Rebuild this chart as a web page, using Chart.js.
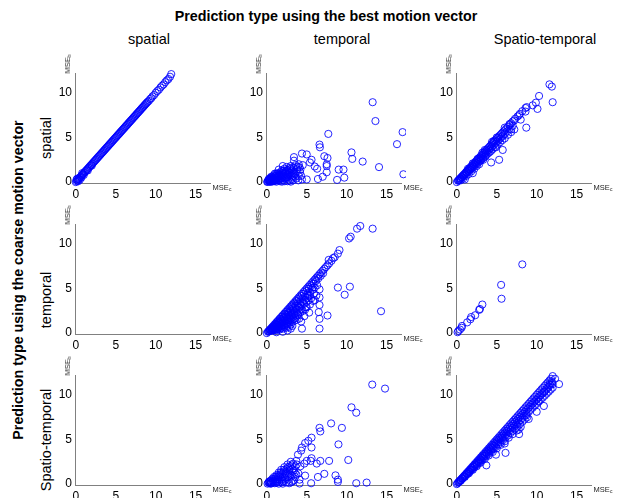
<!DOCTYPE html>
<html>
<head>
<meta charset="utf-8">
<script src="https://cdn.jsdelivr.net/npm/chart.js@4"></script>
<style>
  html, body { margin: 0; padding: 0; background: #fff; }
  #wrap { position: relative; width: 620px; height: 498px; overflow: hidden; font-family: 'Liberation Sans', Arial, sans-serif; color: #000; }
  .txt { position: absolute; white-space: nowrap; transform: translate(-50%, -50%); line-height: 1; }
  .rot { transform: translate(-50%, -50%) rotate(-90deg); }
  .lbl { font-size: 7.5px; color: #222; }
  .lbl sub { font-size: 5px; vertical-align: -1px; }
  canvas { position: absolute; }
</style>
</head>
<body>
<div id="wrap"></div>
<script>
const colTitles = ['spatial', 'temporal', 'Spatio-temporal'];
const rowTitles = ['spatial', 'temporal', 'Spatio-temporal'];
const xTicks = [0, 5, 10, 15];
const yTicks = [0, 5, 10];

// row = coarse motion vector type, column = best motion vector type; points are [MSEc, MSEb]
const spatialSpatial = [[0,0],[0.1,0.1],[0.2,0.2],[0.3,0.3],[0.4,0.4],[0.5,0.5],[0.6,0.6],[0.7,0.7],[0.8,0.8],[0.9,0.9],[1,1],[1.1,1.1],[1.2,1.2],[1.3,1.3],[1.4,1.4],[1.5,1.5],[1.6,1.6],[1.7,1.7],[1.8,1.8],[1.9,1.9],[2,2],[2.1,2.1],[2.2,2.2],[2.3,2.3],[2.4,2.4],[2.5,2.5],[2.6,2.6],[2.7,2.7],[2.8,2.8],[2.9,2.9],[3,3],[3.1,3.1],[3.2,3.2],[3.3,3.3],[3.4,3.4],[3.5,3.5],[3.6,3.6],[3.7,3.7],[3.8,3.8],[3.9,3.9],[4,4],[4.1,4.1],[4.2,4.2],[4.3,4.3],[4.4,4.4],[4.5,4.5],[4.6,4.6],[4.7,4.7],[4.8,4.8],[4.9,4.9],[5,5],[5.1,5.1],[5.2,5.2],[5.3,5.3],[5.4,5.4],[5.5,5.5],[5.6,5.6],[5.7,5.7],[5.8,5.8],[5.9,5.9],[6,6],[6.1,6.1],[6.2,6.2],[6.3,6.3],[6.4,6.4],[6.5,6.5],[6.6,6.6],[6.7,6.7],[6.8,6.8],[6.9,6.9],[7,7],[7.1,7.1],[7.2,7.2],[7.3,7.3],[7.4,7.4],[7.5,7.5],[7.6,7.6],[7.7,7.7],[7.8,7.8],[7.9,7.9],[8,8],[8.1,8.1],[8.2,8.2],[8.3,8.3],[8.4,8.4],[8.5,8.5],[8.6,8.6],[8.7,8.7],[8.8,8.8],[8.9,8.9],[9,9],[9.15,9.1],[9.3,9.3],[9.45,9.4],[9.6,9.6],[9.8,9.75],[10,10],[10.2,10.2],[10.4,10.35],[10.6,10.6],[10.8,10.8],[11,10.95],[11.2,11.2],[11.4,11.4],[11.6,11.55],[11.8,11.8],[11.95,12.1],[0.3,0.1],[0.5,0.25],[0.2,0.4],[0.7,0.5],[1.0,0.8],[0.8,1.0],[1.5,1.3],[2.0,1.85],[0.1,0.3]];
const spatialTemporal = [[13.25,8.95],[13.6,6.84],[17.0,5.6],[16.3,4.25],[17.1,0.88],[14.05,1.68],[12.0,2.3],[10.6,3.33],[10.7,2.6],[7.7,5.4],[6.6,4.2],[6.65,3.9],[7.6,2.7],[7.2,2.9],[7.5,2.0],[7.5,1.8],[7.5,1.1],[7.0,0.6],[6.4,0.35],[9.0,1.4],[9.6,1.4],[9.7,0.5],[8.8,0.25],[6.3,1.5],[6.0,1.75],[5.4,2.2],[5.6,2.5],[5.0,3.1],[4.4,3.2],[3.4,2.8],[3.4,2.4],[4.0,2.0],[4.1,1.65],[5.0,0.3],[4.3,0.7],[0.1,0.05],[0.2,0.2],[0.3,0.1],[0.4,0.3],[0.5,0.15],[0.6,0.4],[0.7,0.25],[0.8,0.5],[0.9,0.1],[1,0.6],[1.1,0.35],[1.2,0.8],[1.3,0.2],[1.4,0.55],[1.5,0.9],[1.6,0.3],[1.7,1.1],[1.8,0.65],[1.9,1.3],[2,0.2],[2.1,0.9],[2.2,1.5],[2.3,0.5],[2.4,1.2],[2.5,1.7],[2.6,0.8],[2.7,0.3],[2.8,1.4],[2.9,1.0],[3,1.8],[3.1,0.6],[3.2,1.3],[3.3,0.2],[3.4,1.6],[3.5,0.9],[3.6,1.9],[3.7,0.4],[3.8,1.2],[3.9,1.7],[4,0.7],[4.2,1.4],[4.4,0.3],[4.5,1.9],[0.5,0.5],[1.5,1.4],[2.0,1.8],[1.0,0.95],[0.3,0.3],[0.05,0.02],[0.6,0.05],[1.2,0.05],[1.9,0.05],[2.6,0.1],[3.0,0.05],[0.25,0.35],[0.45,0.05],[0.55,0.6],[0.75,0.15],[0.85,0.75],[0.95,0.3],[1.05,0.15],[1.15,0.7],[1.25,0.45],[1.35,1.0],[1.45,0.25],[1.55,0.65],[1.65,0.1],[1.75,0.85],[1.85,0.4],[1.95,1.0],[2.05,0.6],[2.15,1.3],[2.25,0.1],[2.35,0.95],[2.45,0.45],[2.55,1.35],[2.65,0.6],[2.75,1.1],[2.85,0.15],[2.95,0.75],[3.05,1.5],[3.15,0.35],[3.35,1.0],[3.55,0.6],[3.75,1.45],[3.95,0.2],[4.15,1.1],[0.35,0.2],[0.65,0.3],[1.0,0.2],[0.15,0.12],[0.35,0.05],[0.45,0.4],[0.65,0.55],[0.7,0.1],[0.85,0.35],[1.05,0.5],[1.15,0.95],[1.3,0.6],[1.45,0.45],[1.6,0.75],[1.7,0.5],[1.9,0.75],[2.0,1.2],[2.15,0.4],[2.3,1.0],[2.5,0.55],[2.6,1.3],[2.75,0.9],[2.9,1.6],[3.1,1.15],[3.3,0.7]];
const spatialSpatioTemporal = [[0,0],[0.15,0.15],[0.3,0.3],[0.45,0.44],[0.6,0.58],[0.75,0.73],[0.9,0.87],[1.05,1.02],[1.2,1.16],[1.35,1.31],[1.5,1.45],[1.65,1.6],[1.8,1.75],[1.95,1.89],[2.1,2.04],[2.25,2.18],[2.4,2.33],[2.55,2.47],[2.7,2.62],[2.85,2.76],[3,2.91],[3.15,3.06],[3.3,3.2],[3.45,3.35],[3.6,3.49],[3.75,3.64],[3.9,3.78],[4.05,3.93],[4.2,4.07],[4.35,4.22],[4.5,4.37],[4.65,4.51],[4.8,4.66],[4.95,4.8],[5.1,4.95],[5.25,5.09],[5.4,5.24],[5.55,5.38],[5.7,5.53],[5.85,5.67],[6,5.82],[6.2,6.01],[6.4,6.2],[6.6,6.4],[6.8,6.6],[7.0,6.8],[7.3,7.1],[7.6,7.35],[7.9,7.65],[8.2,7.95],[8.6,8.3],[0.3,0.2],[0.5,0.4],[0.7,0.55],[0.9,0.72],[1.1,0.9],[1.3,1.05],[1.5,1.22],[1.7,1.4],[1.9,1.55],[2.1,1.7],[2.3,1.9],[2.5,2.05],[2.7,2.2],[2.9,2.4],[3.1,2.55],[3.3,2.7],[3.5,2.85],[3.7,3.05],[3.9,3.2],[4.1,3.35],[4.3,3.5],[4.5,3.7],[4.8,3.95],[5.1,4.2],[5.4,4.45],[5.7,4.7],[6.0,4.9],[6.4,5.3],[6.8,5.6],[7.2,5.9],[0.2,0.18],[0.4,0.36],[0.6,0.54],[0.8,0.72],[1.0,0.9],[1.2,1.08],[1.4,1.26],[1.6,1.44],[1.8,1.62],[2.0,1.8],[2.2,1.98],[2.4,2.16],[2.6,2.34],[2.8,2.52],[3.0,2.7],[3.2,2.88],[3.4,3.06],[3.6,3.24],[3.8,3.42],[4.0,3.6],[4.2,3.78],[4.4,3.96],[4.6,4.14],[4.8,4.32],[5.0,4.5],[5.2,4.68],[5.4,4.86],[5.6,5.04],[5.8,5.22],[6.0,5.4],[6.3,5.67],[6.6,5.94],[7.0,6.3],[0.5,0.2],[0.8,0.4],[1.0,0.3],[1.2,0.7],[1.5,0.9],[1.8,1.2],[2.0,1.0],[2.2,1.5],[2.5,1.8],[2.8,2.0],[3.0,2.4],[3.3,2.5],[3.6,2.9],[4.3,2.2],[4.9,3.9],[5.3,2.5],[5.75,3.6],[4.6,4.6],[5.0,5.0],[3.5,3.6],[6.0,6.1],[6.6,6.5],[8.7,6.1],[7.8,7.5],[8.6,7.9],[8.75,8.4],[9.9,8.9],[10.1,8.2],[10.3,9.65],[11.6,10.95],[11.9,10.7],[12.0,8.95],[9.5,8.6],[8.0,7.0],[7.2,6.9],[6.8,5.9],[4.4,4.5],[3.2,3.3],[2.6,2.6],[2.0,2.1],[1.4,1.5]];
const temporalSpatial = [];
const temporalTemporal = [[0,0],[0.2,0.2],[0.4,0.4],[0.6,0.6],[0.8,0.8],[1,1],[1.2,1.2],[1.4,1.4],[1.6,1.6],[1.8,1.8],[2,2],[2.2,2.2],[2.4,2.4],[2.6,2.6],[2.8,2.8],[3,3],[3.2,3.2],[3.4,3.4],[3.6,3.6],[3.8,3.8],[4,4],[4.2,4.2],[4.4,4.4],[4.6,4.6],[4.8,4.8],[5,5],[5.2,5.2],[5.4,5.4],[5.6,5.6],[5.8,5.8],[6,6],[6.2,6.2],[6.4,6.4],[6.6,6.6],[6.8,6.8],[7,7],[7.2,7.2],[7.4,7.4],[7.6,7.6],[7.8,7.8],[8.1,8.1],[8.5,8.5],[8.9,8.9],[9.1,9.3],[10.3,10.6],[10.5,10.8],[11.3,11.7],[11.7,12.0],[13.25,11.7],[0.3,0.26],[0.6,0.51],[0.9,0.77],[1.2,1.02],[1.5,1.28],[1.8,1.53],[2.1,1.79],[2.4,2.04],[2.7,2.3],[3,2.55],[3.3,2.81],[3.6,3.06],[3.9,3.32],[4.2,3.57],[4.5,3.83],[4.8,4.08],[5.1,4.34],[5.4,4.59],[5.7,4.85],[6,5.1],[6.3,5.36],[0.45,0.32],[0.75,0.53],[1.05,0.74],[1.35,0.95],[1.65,1.16],[1.95,1.37],[2.25,1.58],[2.55,1.79],[2.85,2.0],[3.15,2.2],[3.45,2.42],[3.75,2.63],[4.05,2.84],[4.35,3.05],[4.65,3.26],[4.95,3.47],[5.25,3.68],[5.55,3.89],[0.6,0.33],[0.9,0.5],[1.2,0.66],[1.5,0.83],[1.8,0.99],[2.1,1.16],[2.4,1.32],[2.7,1.49],[3,1.65],[3.3,1.82],[3.6,1.98],[3.9,2.15],[4.2,2.31],[4.5,2.48],[4.8,2.64],[0.75,0.3],[1.05,0.42],[1.35,0.54],[1.65,0.66],[1.95,0.78],[2.25,0.9],[2.55,1.02],[2.85,1.14],[3.15,1.26],[3.45,1.38],[3.75,1.5],[4.05,1.62],[1.2,0.3],[1.6,0.4],[2.0,0.5],[2.4,0.6],[2.8,0.7],[3.2,0.8],[0.15,0.14],[0.45,0.43],[0.75,0.71],[1.05,1.0],[1.35,1.28],[1.65,1.57],[1.95,1.85],[2.25,2.14],[2.55,2.42],[2.85,2.71],[3.15,2.99],[3.45,3.28],[3.75,3.56],[4.05,3.85],[4.35,4.13],[4.65,4.42],[4.95,4.7],[5.25,4.99],[5.55,5.27],[5.85,5.56],[6.15,5.84],[6.45,6.13],[6.75,6.41],[7.05,6.7],[0.3,0.23],[0.6,0.47],[0.9,0.7],[1.2,0.94],[1.5,1.17],[1.8,1.4],[2.1,1.64],[2.4,1.87],[2.7,2.11],[3,2.34],[3.3,2.57],[3.6,2.81],[3.9,3.04],[4.2,3.28],[4.5,3.51],[4.8,3.74],[5.1,3.98],[5.4,4.21],[0.45,0.28],[0.75,0.47],[1.05,0.65],[1.35,0.84],[1.65,1.02],[1.95,1.21],[2.25,1.4],[2.55,1.58],[2.85,1.77],[3.15,1.95],[3.45,2.14],[3.75,2.33],[4.05,2.51],[4.35,2.7],[0.6,0.28],[0.9,0.42],[1.2,0.56],[1.5,0.71],[1.8,0.85],[2.1,0.99],[2.4,1.13],[2.7,1.27],[3,1.41],[3.3,1.55],[3.6,1.69],[1.0,0.32],[1.4,0.45],[1.8,0.58],[2.2,0.7],[2.6,0.83],[3.0,0.96],[1.2,0.1],[2.0,0.15],[2.6,0.3],[3.0,0.5],[8.9,5.1],[10.4,5.2],[9.75,4.3],[14.3,2.45],[7.6,1.97],[6.6,0.5],[6.6,1.6],[6.5,2.35],[6.6,3.15],[6.6,4.0],[6.6,4.9],[6.0,3.7],[5.7,5.1],[5.3,2.3],[4.4,0.5],[4.3,1.3],[3.9,2.0],[4.9,2.9],[7.75,8.2],[8.3,8.4],[5.0,2.9],[5.4,3.2],[5.8,3.6],[6.2,4.2],[4.7,1.9],[5.2,4.2],[5.9,4.4]];
const temporalSpatioTemporal = [[8.2,7.7],[5.55,5.4],[5.6,3.85],[3.2,3.2],[2.9,2.7],[2.8,2.6],[2.3,2.0],[1.8,1.8],[1.7,1.55],[1.3,1.2],[0.65,0.8],[0.6,0.6],[0.2,0.25],[0.1,0.1],[0.4,0.4]];
const stSpatial = [];
const stTemporal = [[13.2,11.15],[14.8,10.7],[10.6,8.6],[11.2,8.0],[9.4,6.3],[8.05,6.8],[6.6,6.3],[6.7,5.9],[5.6,5.2],[5.2,4.85],[4.8,4.6],[4.4,4.1],[4.3,3.75],[3.9,3.3],[5.6,4.1],[8.97,4.45],[10.2,2.7],[7.8,2.6],[6.7,2.6],[5.6,2.9],[5.5,2.6],[5.0,2.6],[6.25,2.3],[4.7,2.3],[4.2,2.0],[8.6,0.98],[7.2,1.15],[6.4,0.8],[8.9,0.5],[8.9,0.25],[11.2,0.1],[12.5,0.17],[5.55,0.1],[4.1,0.07],[4.8,0.95],[3.7,1.05],[0.1,0.05],[0.2,0.15],[0.3,0.3],[0.4,0.1],[0.5,0.4],[0.6,0.2],[0.7,0.6],[0.8,0.3],[0.9,0.8],[1,0.1],[1.1,0.5],[1.2,1.0],[1.3,0.3],[1.4,0.8],[1.5,1.3],[1.6,0.5],[1.7,1.1],[1.8,1.6],[1.9,0.2],[2,0.8],[2.1,1.4],[2.2,1.9],[2.3,0.5],[2.4,1.1],[2.5,1.7],[2.6,2.2],[2.7,0.8],[2.8,1.4],[2.9,2.0],[3,2.5],[3.1,1.0],[3.2,1.7],[3.3,2.3],[3.4,0.4],[3.5,1.3],[3.6,2.0],[3.7,2.6],[2.0,0.05],[2.8,0.1],[3.2,0.3],[1.5,0.05],[0.5,0.05],[0.25,0.2],[0.45,0.3],[0.55,0.1],[0.75,0.4],[0.85,0.15],[0.95,0.6],[1.05,0.3],[1.15,0.8],[1.25,0.15],[1.35,0.5],[1.45,1.0],[1.55,0.25],[1.65,0.75],[1.75,1.3],[1.85,0.45],[1.95,1.1],[2.05,0.3],[2.15,1.6],[2.25,0.7],[2.35,1.3],[2.45,0.2],[2.55,1.0],[2.65,1.9],[2.75,0.5],[2.85,1.6],[2.95,1.1],[3.05,0.2],[3.15,2.1],[3.35,1.5],[3.55,0.8],[3.75,2.2],[3.95,1.2],[4.1,0.5]];
const stSpatioTemporal = [[0,0],[0.2,0.2],[0.4,0.4],[0.6,0.6],[0.8,0.8],[1,1],[1.2,1.2],[1.4,1.4],[1.6,1.6],[1.8,1.8],[2,2],[2.2,2.2],[2.4,2.4],[2.6,2.6],[2.8,2.8],[3,3],[3.2,3.2],[3.4,3.4],[3.6,3.6],[3.8,3.8],[4,4],[4.2,4.2],[4.4,4.4],[4.6,4.6],[4.8,4.8],[5,5],[5.2,5.2],[5.4,5.4],[5.6,5.6],[5.8,5.8],[6,6],[6.2,6.2],[6.4,6.4],[6.6,6.6],[6.8,6.8],[7,7],[7.2,7.2],[7.4,7.4],[7.6,7.6],[7.8,7.8],[8,8],[8.2,8.2],[8.4,8.4],[8.6,8.6],[8.8,8.8],[9,9],[9.2,9.2],[9.4,9.4],[9.6,9.6],[9.8,9.8],[10,10],[10.2,10.2],[10.4,10.4],[10.6,10.6],[10.8,10.8],[11,11],[11.2,11.2],[11.4,11.4],[11.6,11.6],[11.8,11.8],[12,12.1],[0.1,0.1],[0.3,0.29],[0.5,0.48],[0.7,0.67],[0.9,0.86],[1.1,1.05],[1.3,1.24],[1.5,1.43],[1.7,1.62],[1.9,1.81],[2.1,2.0],[2.3,2.19],[2.5,2.38],[2.7,2.57],[2.9,2.76],[3.1,2.95],[3.3,3.14],[3.5,3.33],[3.7,3.52],[3.9,3.71],[4.1,3.9],[4.3,4.09],[4.5,4.28],[4.7,4.47],[4.9,4.66],[5.1,4.85],[5.3,5.04],[5.5,5.23],[5.7,5.42],[5.9,5.61],[6.1,5.8],[6.3,5.99],[6.5,6.18],[6.7,6.37],[6.9,6.56],[7.1,6.75],[7.3,6.94],[7.5,7.13],[7.7,7.32],[7.9,7.51],[8.1,7.7],[8.3,7.89],[8.5,8.08],[8.7,8.27],[8.9,8.46],[9.1,8.65],[9.3,8.84],[9.5,9.03],[9.7,9.22],[9.9,9.41],[10.1,9.6],[10.3,9.79],[10.5,9.98],[10.7,10.17],[10.9,10.36],[11.1,10.55],[11.3,10.74],[11.5,10.93],[11.7,11.12],[11.9,11.31],[0.25,0.23],[0.5,0.45],[0.75,0.68],[1,0.9],[1.25,1.13],[1.5,1.35],[1.75,1.58],[2,1.8],[2.25,2.03],[2.5,2.25],[2.75,2.48],[3,2.7],[3.25,2.93],[3.5,3.15],[3.75,3.38],[4,3.6],[4.25,3.83],[4.5,4.05],[4.75,4.28],[5,4.5],[5.25,4.73],[5.5,4.95],[5.75,5.18],[6,5.4],[6.25,5.63],[6.5,5.85],[6.75,6.08],[7,6.3],[7.25,6.53],[7.5,6.75],[7.75,6.98],[8,7.2],[8.25,7.43],[8.5,7.65],[8.75,7.88],[9,8.1],[9.25,8.33],[9.5,8.55],[9.75,8.78],[10,9],[10.25,9.23],[10.5,9.45],[10.75,9.68],[11,9.9],[11.25,10.13],[11.5,10.35],[11.75,10.58],[12,10.8],[0.4,0.34],[0.7,0.6],[1.0,0.85],[1.3,1.11],[1.6,1.36],[1.9,1.62],[2.2,1.87],[2.5,2.13],[2.8,2.38],[3.1,2.64],[3.4,2.89],[3.7,3.15],[4.0,3.4],[4.3,3.66],[4.6,3.91],[4.9,4.17],[5.2,4.42],[5.5,4.68],[5.8,4.93],[6.1,5.19],[6.4,5.44],[6.7,5.7],[7.0,5.95],[7.3,6.21],[7.6,6.46],[7.9,6.72],[8.2,6.97],[8.5,7.23],[8.8,7.48],[0.5,0.4],[1,0.8],[1.5,1.2],[2,1.6],[2.5,2.0],[3,2.4],[3.5,2.8],[4,3.2],[4.5,3.6],[5,4.0],[5.5,4.4],[6,4.8],[6.5,5.2],[7,5.6],[7.5,6.0],[8,6.4],[9,7.3],[10,8.1],[12.8,11.2],[12.0,11.2],[10.95,10.3],[10.9,8.75],[10.25,9.3],[8.7,7.7],[7.8,5.6],[7.75,6.1],[6.1,3.5],[6.0,4.55],[4.9,3.3],[3.7,2.1],[11.6,11.2],[12.3,11.8],[11.9,11.5]];

const panelData = [
  [spatialSpatial, spatialTemporal, spatialSpatioTemporal],
  [temporalSpatial, temporalTemporal, temporalSpatioTemporal],
  [stSpatial, stTemporal, stSpatioTemporal],
];

const FONT = "'Liberation Sans', Arial, sans-serif";
const wrap = document.getElementById('wrap');
const plotLeft = [75, 266, 456];
const plotTop = [68, 219, 370];
const plotW = 135, plotH = 115;
const yAxisW = 40, xAxisH = 22, padT = 5, padR = 5;

function addText(html, x, y, style, cls) {
  const d = document.createElement('div');
  d.className = 'txt' + (cls ? ' ' + cls : '');
  d.innerHTML = html;
  d.style.left = x + 'px';
  d.style.top = y + 'px';
  Object.assign(d.style, style || {});
  wrap.appendChild(d);
}

addText('Prediction type using the best motion vector', 326, 16, { fontSize: '14.3px', fontWeight: 'bold' });
addText('Prediction type using the coarse motion vector', 18, 280, { fontSize: '14.3px', fontWeight: 'bold' }, 'rot');
const colX = [149, 342, 545];
colTitles.forEach((t, i) => addText(t, colX[i], 39, { fontSize: '14.5px' }));
const rowY = [138, 300, 440];
rowTitles.forEach((t, i) => addText(t, 46, rowY[i], { fontSize: '14.5px' }, 'rot'));

function axis(ticks, min, max, isX) {
  return {
    type: 'linear',
    min: min,
    max: max,
    grid: { display: false, drawTicks: false },
    border: { display: true, color: '#808080', width: 1 },
    ticks: { font: { family: FONT, size: 12 }, color: '#000', padding: isX ? 4 : 3, maxRotation: 0, autoSkip: false },
    afterBuildTicks: s => { s.ticks = ticks.map(v => ({ value: v })); },
    afterFit: s => { if (isX) s.height = xAxisH; else s.width = yAxisW; },
  };
}

for (let r = 0; r < 3; r++) {
  for (let c = 0; c < 3; c++) {
    const L = plotLeft[c], T = plotTop[r];
    const cv = document.createElement('canvas');
    const w = yAxisW + plotW + padR, h = padT + plotH + xAxisH;
    cv.width = w; cv.height = h;
    cv.style.left = (L - yAxisW) + 'px';
    cv.style.top = (T - padT) + 'px';
    cv.style.width = w + 'px'; cv.style.height = h + 'px';
    wrap.appendChild(cv);

    new Chart(cv.getContext('2d'), {
      type: 'scatter',
      data: {
        datasets: [{
          data: panelData[r][c].map(p => ({ x: p[0], y: p[1] })),
          pointStyle: 'circle',
          pointRadius: 3.6,
          pointBorderWidth: 1,
          pointBackgroundColor: 'rgba(0,0,0,0)',
          pointBorderColor: 'rgba(0,0,255,0.85)',
          clip: false,
        }],
      },
      options: {
        responsive: false,
        animation: false,
        layout: { padding: { top: padT, right: padR, left: 0, bottom: 0 } },
        plugins: { legend: { display: false }, tooltip: { enabled: false } },
        scales: {
          x: axis(xTicks, -0.1, 16.8, true),
          y: axis(yTicks, -0.1, 12.2, false),
        },
      },
    });

    addText('MSE<sub>b</sub>', L - 7, T - 4, {}, 'rot lbl');
    addText('MSE<sub>c</sub>', L + plotW + 12, T + plotH + 5, {}, 'lbl');
  }
}
</script>
</body>
</html>
